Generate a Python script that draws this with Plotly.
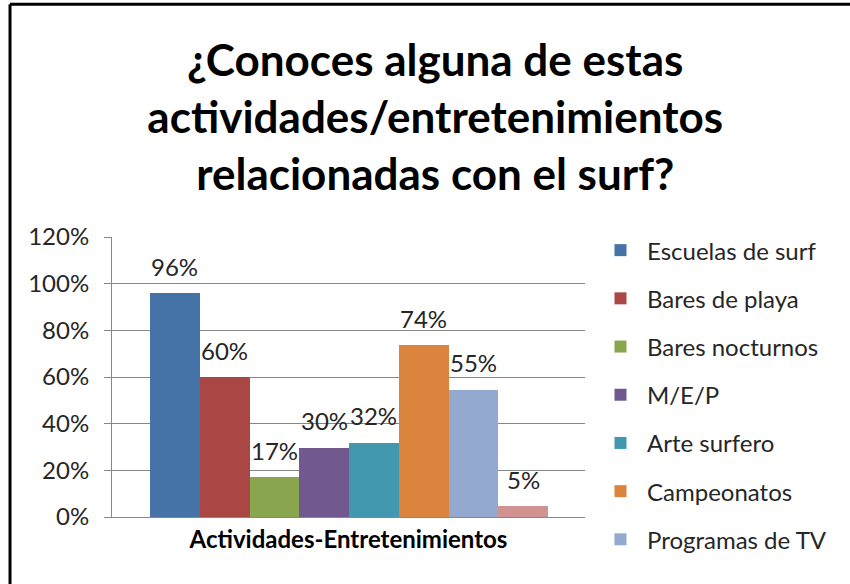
import plotly.graph_objects as go

# data
actividades = [
    "Escuelas de surf",
    "Bares de playa",
    "Bares nocturnos",
    "M/E/P",
    "Arte surfero",
    "Campeonatos",
    "Programas de TV",
    "Otros",
]
porcentajes = [0.96, 0.60, 0.17, 0.296, 0.318, 0.736, 0.546, 0.046]
colores = ["#4572A7", "#AA4643", "#89A54E", "#71588F",
           "#4198AF", "#DB843D", "#93A9CF", "#D19392"]
en_leyenda = [True, True, True, True, True, True, True, False]
y_ticks = [0, 0.2, 0.4, 0.6, 0.8, 1.0, 1.2]

FONT = "Lato"
GRIS = "#878787"

fig = go.Figure()
for nombre, valor, color, leyenda in zip(actividades, porcentajes, colores, en_leyenda):
    fig.add_trace(go.Bar(
        x=[nombre], y=[valor], name=nombre,
        marker=dict(color=color, line=dict(width=0)),
        width=1, showlegend=leyenda, legendgroup=nombre,
    ))
    fig.add_annotation(
        x=nombre, y=valor, text=f"{valor:.0%}", showarrow=False,
        yanchor="middle", yshift=27,
        font=dict(family=FONT, size=24, color="#262626"),
    )

# frame of the original chart (only left and top edges are visible)
fig.add_shape(type="line", xref="paper", yref="paper",
              x0=-0.2156, x1=-0.2156, y0=-0.5, y1=1.8315,
              line=dict(color="black", width=3))
fig.add_shape(type="line", xref="paper", yref="paper",
              x0=-0.2156, x1=1.8, y0=1.8315, y1=1.8315,
              line=dict(color="black", width=3))

fig.update_layout(
    width=850, height=584,
    margin=dict(l=112, r=265, t=237, b=67),
    paper_bgcolor="white", plot_bgcolor="white",
    barmode="overlay", bargap=0,
    font=dict(family=FONT, color="#262626"),
    title=dict(
        text="¿Conoces alguna de estas<br>actividades/entretenimientos<br>relacionadas con el surf?",
        x=0.512, xref="container", xanchor="center",
        y=0.870, yref="container", yanchor="middle",
        font=dict(family=FONT, size=44, color="black", weight="bold"),
    ),
    legend=dict(
        x=1.019, xanchor="left", y=1.032, yanchor="top",
        font=dict(family=FONT, size=24, color="#262626"),
        tracegroupgap=14, itemwidth=43, maxheight=500,
        bgcolor="rgba(0,0,0,0)",
    ),
    xaxis=dict(
        type="category", range=[-1.264, 8.24],
        showticklabels=False, showgrid=False,
        showline=True, linecolor=GRIS, linewidth=1,
        title=dict(text="<b>Actividades-Entretenimientos</b>", standoff=14,
                   font=dict(family=FONT, size=24, color="black")),
    ),
    yaxis=dict(
        range=[0, 1.2], tickvals=y_ticks, tickformat=".0%",
        showgrid=True, gridcolor=GRIS, gridwidth=1,
        showline=True, linecolor=GRIS, linewidth=1,
        ticks="outside", ticklen=7, tickcolor=GRIS,
        ticklabelstandoff=10,
        tickfont=dict(family=FONT, size=24, color="#262626"),
        zeroline=False,
    ),
)

# the page is photographed from its top-left corner, so drop the default body margin
fig.write_html("out.html", config={"displayModeBar": False},
               post_script="document.body.style.margin='0px';")
